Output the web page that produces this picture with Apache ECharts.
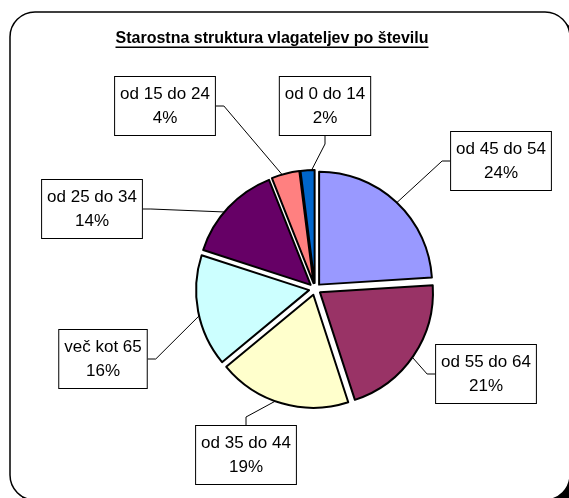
<!DOCTYPE html>
<html lang="sl">
  <head>
    <meta charset="UTF-8" />
    <title>Starostna struktura vlagateljev po številu</title>
    <style>
      body {
        margin: 0;
        padding: 0;
        background-color: #fff;
      }
      #container {
        width: 569px;
        height: 498px;
      }
    </style>
  </head>
  <body>
    <div id="container"></div>

    <script src="https://cdn.jsdelivr.net/npm/echarts@6/dist/echarts.min.js"></script>
    <script>
      // podatki
      const titleText = "Starostna struktura vlagateljev po številu";
      const ageGroups = [
        "od 45 do 54",
        "od 55 do 64",
        "od 35 do 44",
        "več kot 65",
        "od 25 do 34",
        "od 15 do 24",
        "od 0 do 14",
      ];
      const shares = [24, 21, 19, 16, 14, 4, 2];
      const sliceColors = [
        "#9999FF",
        "#993366",
        "#FFFFCC",
        "#CCFFFF",
        "#660066",
        "#FF8080",
        "#0066CC",
      ];

      // kje stojijo okvirji z oznakami (središče okvirja)
      const labelSpots = [
        [501, 161],
        [486, 374],
        [246, 455],
        [103, 359],
        [92, 209],
        [165, 106],
        [325, 106],
      ];

      const font = "'Liberation Sans', Arial, sans-serif";
      const pieCenter = [315, 289];
      const pieRadius = 113;

      // širina naslova za podčrtaj
      const ctx = document.createElement("canvas").getContext("2d");
      ctx.font = "bold 16px " + font;
      const titleW = ctx.measureText(titleText).width;
      const titleX = 272;

      var chart = echarts.init(document.getElementById("container"));

      const option = {
        animation: false,
        graphic: [
          // senca okvirja
          {
            type: "rect",
            z: -20,
            shape: { x: 16, y: 18, width: 560, height: 488, r: 25 },
            style: { fill: "#000" },
          },
          // okvir
          {
            type: "rect",
            z: -10,
            shape: { x: 10, y: 12, width: 560, height: 488, r: 25 },
            style: { fill: "#fff", stroke: "#000", lineWidth: 1.5 },
          },
          {
            type: "text",
            x: titleX,
            y: 39,
            style: {
              text: titleText,
              font: "bold 16px " + font,
              fill: "#000",
              align: "center",
              verticalAlign: "middle",
            },
          },
          {
            type: "rect",
            shape: { x: titleX - titleW / 2, y: 46.5, width: titleW, height: 1.6 },
            style: { fill: "#000" },
          },
        ],
        series: [
          // razmaknjeni izseki
          {
            type: "pie",
            center: pieCenter,
            radius: pieRadius,
            startAngle: 90,
            clockwise: true,
            selectedMode: "multiple",
            selectedOffset: 6,
            itemStyle: { borderColor: "#000", borderWidth: 2 },
            select: { itemStyle: { borderColor: "#000", borderWidth: 2 } },
            emphasis: { disabled: true },
            label: { show: false },
            labelLine: { show: false },
            data: ageGroups.map((name, i) => ({
              name: name,
              value: shares[i],
              selected: true,
              itemStyle: { color: sliceColors[i] },
            })),
          },
          // oznake s črtami
          {
            type: "pie",
            center: pieCenter,
            radius: pieRadius - 1,
            startAngle: 90,
            clockwise: true,
            silent: true,
            itemStyle: { color: "rgba(0,0,0,0)", borderWidth: 0 },
            emphasis: { disabled: true },
            label: {
              show: true,
              formatter: (p) => p.name + "\n" + Math.round(p.percent) + "%",
              color: "#000",
              fontFamily: font,
              fontSize: 17,
              lineHeight: 24,
              backgroundColor: "#fff",
              borderColor: "#000",
              borderWidth: 1,
              padding: [5, 5, 5, 5],
            },
            labelLine: {
              show: true,
              length: 15,
              length2: 8,
              lineStyle: { color: "#000", width: 1 },
            },
            labelLayout: (params) => {
              const spot = labelSpots[params.dataIndex];
              return {
                x: spot[0],
                y: spot[1],
                align: "center",
                verticalAlign: "middle",
              };
            },
            data: ageGroups.map((name, i) => ({ name: name, value: shares[i] })),
          },
        ],
      };

      chart.setOption(option);
    </script>
  </body>
</html>
